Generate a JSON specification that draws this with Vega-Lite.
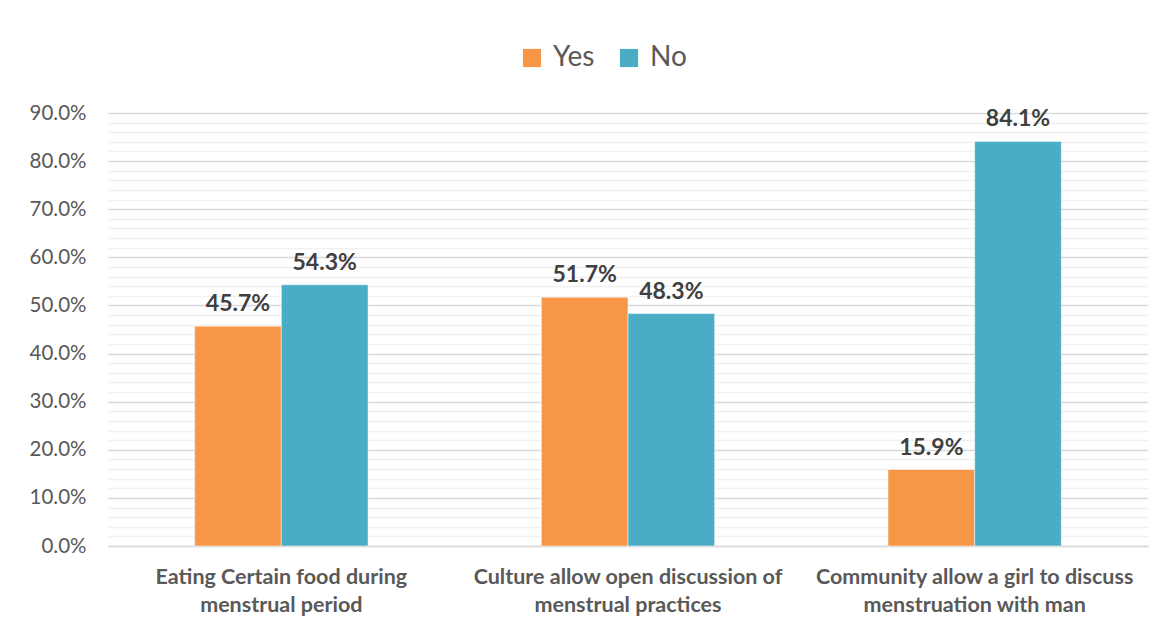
{
  "$schema": "https://vega.github.io/schema/vega-lite/v6.json",
  "width": 1040,
  "height": 433,
  "autosize": "none",
  "padding": {"left": 108, "top": 113, "right": 16, "bottom": 84},
  "background": "white",
  "config": {
    "view": {"stroke": null},
    "font": "Lato"
  },
  "data": {
    "values": [
      {"category": "Eating Certain food during|menstrual period", "answer": "Yes", "value": 0.457},
      {"category": "Eating Certain food during|menstrual period", "answer": "No", "value": 0.543},
      {"category": "Culture allow open discussion of|menstrual practices", "answer": "Yes", "value": 0.517},
      {"category": "Culture allow open discussion of|menstrual practices", "answer": "No", "value": 0.483},
      {"category": "Community allow a girl to discuss|menstruation with man", "answer": "Yes", "value": 0.159},
      {"category": "Community allow a girl to discuss|menstruation with man", "answer": "No", "value": 0.841}
    ]
  },
  "encoding": {
    "x": {
      "field": "category",
      "type": "nominal",
      "sort": null,
      "title": null,
      "scale": {"paddingInner": 0.5, "paddingOuter": 0.25},
      "axis": {
        "labelExpr": "split(datum.label, '|')",
        "labelAngle": 0,
        "labelFont": "Lato",
        "labelFontWeight": "bold",
        "labelFontSize": 21.5,
        "labelColor": "#595959",
        "labelLineHeight": 28,
        "labelPadding": 20,
        "labelLimit": 500,
        "ticks": false,
        "domainColor": "#d9d9d9",
        "domainWidth": 1.5,
        "grid": false
      }
    },
    "xOffset": {"field": "answer", "type": "nominal", "sort": ["Yes", "No"]},
    "y": {
      "field": "value",
      "type": "quantitative",
      "title": null,
      "scale": {"domain": [0, 0.9], "nice": false},
      "axis": {
        "values": [0, 0.02, 0.04, 0.06, 0.08, 0.1, 0.12, 0.14, 0.16, 0.18, 0.2, 0.22, 0.24, 0.26, 0.28, 0.3, 0.32, 0.34, 0.36, 0.38, 0.4, 0.42, 0.44, 0.46, 0.48, 0.5, 0.52, 0.54, 0.56, 0.58, 0.6, 0.62, 0.64, 0.66, 0.68, 0.7, 0.72, 0.74, 0.76, 0.78, 0.8, 0.82, 0.84, 0.86, 0.88, 0.9],
        "labelExpr": "round(datum.value*100) % 10 === 0 ? format(datum.value, '.1%') : ''",
        "labelFont": "Lato",
        "labelFontSize": 20.5,
        "labelColor": "#595959",
        "labelPadding": 22,
        "ticks": false,
        "domain": false,
        "grid": true,
        "gridColor": {"condition": {"test": "round(datum.value*100) % 10 === 0", "value": "#d9d9d9"}, "value": "#f0f0f0"},
        "gridWidth": 1.5
      }
    }
  },
  "layer": [
    {
      "mark": {"type": "bar", "stroke": "white", "strokeWidth": 0.5},
      "encoding": {
        "color": {
          "field": "answer",
          "type": "nominal",
          "sort": ["Yes", "No"],
          "scale": {"domain": ["Yes", "No"], "range": ["#F79646", "#4BACC6"]},
          "legend": {
            "title": null,
            "orient": "none",
            "direction": "horizontal",
            "legendX": 410,
            "legendY": -69,
            "symbolType": "square",
            "symbolSize": 330,
            "symbolStrokeWidth": 0,
            "labelFont": "Lato",
            "labelFontSize": 28,
            "labelColor": "#595959",
            "columnPadding": 20,
            "labelOffset": 7
          }
        }
      }
    },
    {
      "mark": {"type": "text", "baseline": "bottom", "dy": -10, "font": "Lato", "fontWeight": "bold", "fontSize": 23, "color": "#404040"},
      "encoding": {
        "text": {"field": "value", "type": "quantitative", "format": ".1%"}
      }
    }
  ]
}
